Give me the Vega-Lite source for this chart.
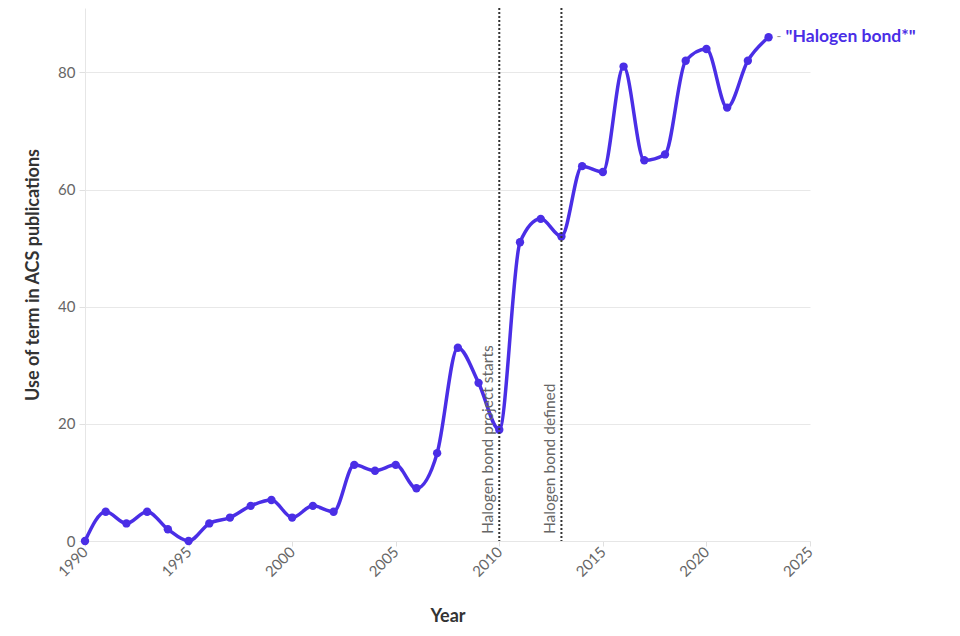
{
  "$schema": "https://vega.github.io/schema/vega-lite/v6.json",
  "autosize": {"type": "none"},
  "padding": {"left": 85, "top": 8, "right": 150, "bottom": 95},
  "width": 725,
  "height": 533,
  "background": "white",
  "config": {
    "font": "Lato",
    "view": {"stroke": null},
    "axis": {"labelFont": "Lato", "titleFont": "Lato", "labelColor": "#666", "labelFontSize": 15, "titleColor": "#333", "titleFontSize": 18, "titleFontWeight": "bold", "domainColor": "#e6e6e6", "gridColor": "#e8e8e8", "tickColor": "#e0e0e0"}
  },
  "datasets": {
    "series": [
      {"year": 1990, "count": 0}, {"year": 1991, "count": 5}, {"year": 1992, "count": 3}, {"year": 1993, "count": 5},
      {"year": 1994, "count": 2}, {"year": 1995, "count": 0}, {"year": 1996, "count": 3}, {"year": 1997, "count": 4},
      {"year": 1998, "count": 6}, {"year": 1999, "count": 7}, {"year": 2000, "count": 4}, {"year": 2001, "count": 6},
      {"year": 2002, "count": 5}, {"year": 2003, "count": 13}, {"year": 2004, "count": 12}, {"year": 2005, "count": 13},
      {"year": 2006, "count": 9}, {"year": 2007, "count": 15}, {"year": 2008, "count": 33}, {"year": 2009, "count": 27},
      {"year": 2010, "count": 19}, {"year": 2011, "count": 51}, {"year": 2012, "count": 55}, {"year": 2013, "count": 52},
      {"year": 2014, "count": 64}, {"year": 2015, "count": 63}, {"year": 2016, "count": 81}, {"year": 2017, "count": 65},
      {"year": 2018, "count": 66}, {"year": 2019, "count": 82}, {"year": 2020, "count": 84}, {"year": 2021, "count": 74},
      {"year": 2022, "count": 82}, {"year": 2023, "count": 86}
    ],
    "events": [
      {"year": 2010, "count": 0, "label": "Halogen bond project starts"},
      {"year": 2013, "count": 0, "label": "Halogen bond defined"}
    ],
    "last": [{"year": 2023, "count": 86, "label": "\"Halogen bond*\""}]
  },
  "encoding": {
    "x": {"field": "year", "type": "quantitative", "scale": {"domain": [1990, 2025], "nice": false, "zero": false},
      "axis": {"title": "Year", "values": [1990, 1995, 2000, 2005, 2010, 2015, 2020, 2025], "format": "d", "labelAngle": -45, "labelAlign": "right", "labelBaseline": "middle", "grid": false, "tickSize": 5, "labelPadding": 3, "titlePadding": 28}},
    "y": {"field": "count", "type": "quantitative", "scale": {"domain": [0, 91], "nice": false},
      "axis": {"title": "Use of term in ACS publications", "values": [0, 20, 40, 60, 80], "tickSize": 6, "labelPadding": 4, "titlePadding": 15}}
  },
  "layer": [
    {"data": {"name": "series"}, "mark": {"type": "line", "interpolate": "monotone", "color": "#4a2ee6", "strokeWidth": 3.5}},
    {"data": {"name": "series"}, "mark": {"type": "circle", "color": "#4a2ee6", "opacity": 1, "size": 70}},
    {"data": {"name": "events"}, "mark": {"type": "rule", "color": "#333", "strokeWidth": 2, "strokeDash": [2, 2]},
      "encoding": {"y": null}},
    {"data": {"name": "events"}, "mark": {"type": "text", "angle": 270, "align": "left", "baseline": "bottom", "dx": 7, "dy": -3, "fontSize": 15.5, "color": "#666"},
      "encoding": {"text": {"field": "label"}}},
    {"data": {"name": "last"}, "mark": {"type": "text", "align": "left", "baseline": "middle", "dx": 8, "fontSize": 13, "color": "#999", "text": "-"}},
    {"data": {"name": "last"}, "mark": {"type": "text", "align": "left", "baseline": "middle", "dx": 17, "fontSize": 17.5, "fontWeight": "bold", "color": "#4a2ee6"},
      "encoding": {"text": {"field": "label"}}}
  ]
}
